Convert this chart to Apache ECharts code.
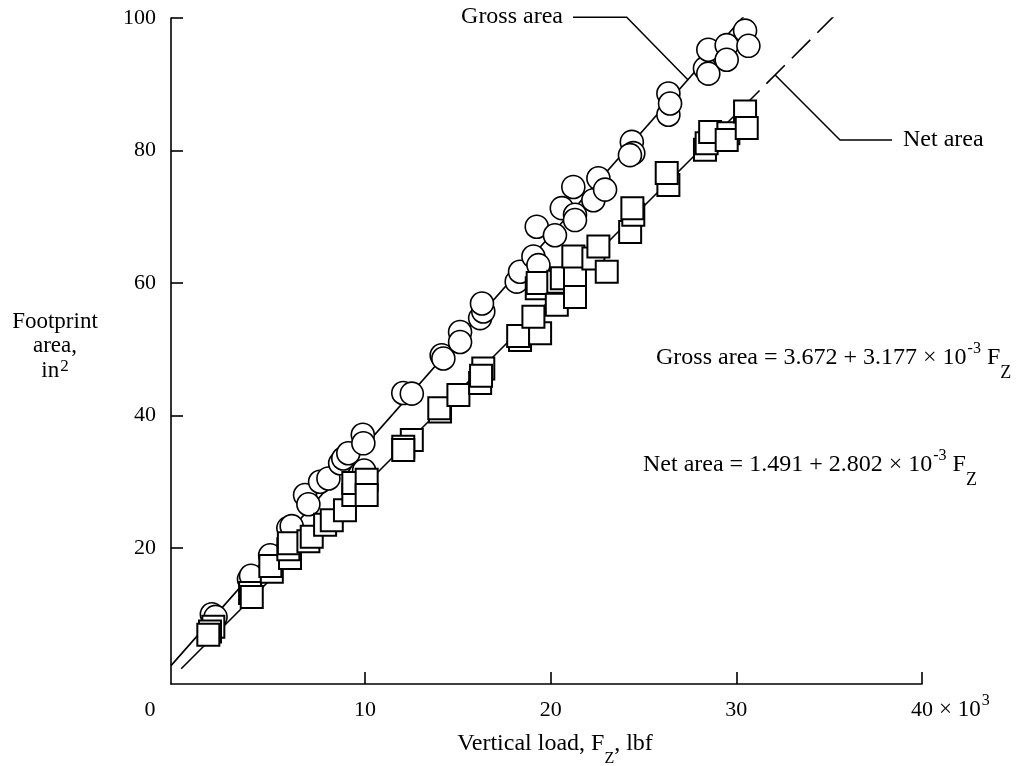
<!DOCTYPE html>
<html>
<head>
<meta charset="utf-8">
<script src="https://cdn.jsdelivr.net/npm/echarts@6/dist/echarts.min.js"></script>
<style>
  html, body { margin: 0; padding: 0; background: #fff; }
  #chart { width: 1018px; height: 766px; }
</style>
</head>
<body>
<div id="chart"></div>
<script>
// Tick positions (vertical load in thousands of lbf, footprint area in in^2)
const xTickValues = [10, 20, 30, 40];
const yTickValues = [20, 40, 60, 80, 100];

// Gross footprint area measurements (circles)
const grossLoad = [1.75, 1.95, 3.75, 3.86, 4.89, 5.87, 6.05, 6.77, 6.95, 7.58, 8.03, 8.66, 8.83, 9.10, 9.88, 9.91, 9.95,
  12.06, 12.52, 14.13, 14.22, 15.12, 15.12, 16.20, 16.37, 16.30, 18.17, 18.35, 19.07, 19.34, 19.25, 20.23, 20.60, 21.31,
  21.31, 21.22, 22.30, 22.57, 22.93, 24.37, 24.45, 24.27, 26.34, 26.34, 26.43, 28.31, 28.49, 28.49, 29.48, 29.48, 30.47, 30.65];
const grossArea = [10.0, 9.6, 15.3, 15.8, 18.9, 23.0, 23.3, 28.0, 26.6, 30.0, 30.5, 32.8, 33.5, 34.3, 37.1, 35.8, 31.7,
  43.4, 43.3, 49.1, 48.6, 52.6, 51.1, 54.7, 55.7, 56.9, 60.2, 61.7, 64.0, 62.7, 68.5, 67.2, 71.3, 70.3,
  69.5, 74.5, 72.5, 75.8, 74.1, 81.3, 79.6, 79.3, 88.6, 85.4, 87.1, 92.4, 91.6, 95.2, 95.9, 93.7, 98.1, 95.8];

// Net footprint area measurements (squares)
const netLoad = [1.83, 1.65, 1.56, 3.81, 3.90, 4.98, 4.90, 5.96, 5.87, 5.90, 6.95, 7.13, 7.85, 8.21, 8.92, 9.37, 9.37,
  10.09, 10.09, 12.52, 12.06, 12.06, 14.04, 14.00, 15.03, 16.37, 16.20, 16.25, 18.35, 18.25, 19.43, 19.07, 19.25, 19.30,
  20.33, 20.41, 20.60, 21.31, 21.31, 21.22, 22.30, 22.57, 23.02, 24.28, 24.45, 24.40, 26.34, 26.25, 28.31, 28.40, 28.59,
  29.57, 29.48, 30.47, 30.56];
const netArea = [8.1, 7.4, 6.9, 13.2, 12.6, 16.4, 17.3, 18.5, 19.8, 20.7, 21.0, 21.7, 23.5, 24.2, 25.7, 28.0, 29.8,
  30.3, 28.0, 36.3, 35.3, 34.8, 40.6, 41.1, 43.1, 47.1, 44.9, 46.0, 51.4, 52.0, 52.4, 54.9, 59.2, 60.0,
  56.7, 60.2, 60.7, 61.2, 57.9, 64.0, 63.7, 65.5, 61.7, 67.7, 70.3, 71.3, 74.8, 76.6, 80.1, 81.1, 82.8,
  82.6, 81.6, 85.9, 83.4];

// Least-squares fits: area = a + b * load (load in thousands of lbf)
const grossFit = { a: 3.672, b: 3.177 };
const netFit = { a: 1.491, b: 2.802 };
const grossLineSpan = [-0.45, 30.56];
const netSolidSpan = [0.1, 31.25];
const netDashSpan = [31.62, 35.3];

const FONT = "'Liberation Serif', 'Times New Roman', serif";
const fitAt = (fit, x) => fit.a + fit.b * x;
const zip = (xs, ys) => xs.map((x, i) => [x, ys[i]]);
const fitLine = (fit, span) => span.map(x => [x, fitAt(fit, x)]);

const chart = echarts.init(document.getElementById('chart'), null, { renderer: 'canvas' });

const axisCommon = {
  type: 'value',
  splitLine: { show: false },
  axisLine: { show: true, onZero: false, lineStyle: { color: '#000', width: 1.6 } },
  axisTick: { show: true, inside: true, length: 12, lineStyle: { color: '#000', width: 1.6 } },
  axisLabel: { color: '#000', fontFamily: FONT, fontSize: 22 }
};

const option = {
  animation: false,
  backgroundColor: '#fff',
  grid: { left: 171, right: 96, top: 18, bottom: 82, containLabel: false },
  xAxis: Object.assign({}, axisCommon, {
    min: -0.45, max: 40,
    axisTick: Object.assign({}, axisCommon.axisTick, { customValues: xTickValues }),
    axisLabel: Object.assign({}, axisCommon.axisLabel, { customValues: xTickValues, margin: 15 })
  }),
  yAxis: Object.assign({}, axisCommon, {
    min: -0.53, max: 100,
    axisTick: Object.assign({}, axisCommon.axisTick, { customValues: yTickValues }),
    axisLabel: Object.assign({}, axisCommon.axisLabel, { customValues: yTickValues, margin: 15 })
  }),
  series: [
    {
      name: 'Gross fit', type: 'line', data: fitLine(grossFit, grossLineSpan),
      showSymbol: false, symbol: 'none', z: 1, silent: true,
      lineStyle: { color: '#000', width: 1.6 }
    },
    {
      name: 'Net fit', type: 'line', data: fitLine(netFit, netSolidSpan),
      showSymbol: false, symbol: 'none', z: 1, silent: true,
      lineStyle: { color: '#000', width: 1.6 }
    },
    {
      name: 'Net fit extension', type: 'line', data: fitLine(netFit, netDashSpan),
      showSymbol: false, symbol: 'none', z: 1, silent: true,
      lineStyle: { color: '#000', width: 1.6, type: [26, 10] }
    },
    {
      name: 'Gross area', type: 'scatter', data: zip(grossLoad, grossArea),
      symbol: 'circle', symbolSize: 23, z: 3, silent: true,
      itemStyle: { color: '#fff', borderColor: '#000', borderWidth: 1.6, opacity: 1 }
    },
    {
      name: 'Net area', type: 'scatter', data: zip(netLoad, netArea),
      symbol: 'rect', symbolSize: 22, z: 4, silent: true,
      itemStyle: { color: '#fff', borderColor: '#000', borderWidth: 2, opacity: 1 }
    }
  ]
};
chart.setOption(option);

// Annotation text and leader lines
const t = (size) => ({ fontSize: size, fontFamily: FONT, fill: '#000' });
const eqRich = {
  t: Object.assign(t(24), { lineHeight: 48, verticalAlign: 'middle' }),
  sup: Object.assign(t(16), { lineHeight: 16, verticalAlign: 'top', padding: [7, 0, 0, 1] }),
  sub: Object.assign(t(18), { lineHeight: 18, verticalAlign: 'bottom', padding: [0, 0, 0, 0] })
};
const textEl = (x, y, text, align, rich, size) => ({
  type: 'text', x: x, y: y, silent: true,
  style: {
    text: text, rich: rich, fill: '#000',
    font: (size || 24) + 'px ' + FONT,
    align: align, textAlign: align,
    verticalAlign: 'middle', textVerticalAlign: 'middle'
  }
});

const pGross = chart.convertToPixel({ gridIndex: 0 }, [27.39, fitAt(grossFit, 27.39)]);
const pNet = chart.convertToPixel({ gridIndex: 0 }, [32.09, fitAt(netFit, 32.09)]);
const leader = (points) => ({
  type: 'polyline', silent: true,
  shape: { points: points },
  style: { stroke: '#000', lineWidth: 1.5, fill: null }
});

const subRich = {
  t: Object.assign(t(24), { lineHeight: 46, verticalAlign: 'middle' }),
  sub: Object.assign(t(16), { lineHeight: 16, verticalAlign: 'bottom', padding: [0, 0, 0, 0] })
};
const supRich = {
  t: Object.assign(t(23), { lineHeight: 40, verticalAlign: 'middle' }),
  sup: Object.assign(t(16), { lineHeight: 16, verticalAlign: 'top', padding: [3, 0, 0, 1] })
};
const inRich = {
  t: Object.assign(t(23), { lineHeight: 24.5, verticalAlign: 'bottom' }),
  sup: Object.assign(t(17), { lineHeight: 17, verticalAlign: 'top', padding: [0, 0, 0, 1] })
};

chart.setOption({
  graphic: [
    textEl(150, 710, '0', 'center', null, 22),
    textEl(939, 710, '{t|× 10}{sup|3}', 'left', supRich),
    textEl(555, 744, '{t|Vertical load, F}{sub|Z}{t|, lbf}', 'center', subRich),
    textEl(55, 345.5, '{t|Footprint}\n{t|area,}\n{t|in}{sup|2}', 'center', inRich),
    textEl(563, 17, 'Gross area', 'right'),
    textEl(903, 140, 'Net area', 'left'),
    textEl(656, 358, '{t|Gross area = 3.672 + 3.177 × 10}{sup|-3}{t| F}{sub|Z}', 'left', eqRich),
    textEl(643, 465, '{t|Net area = 1.491 + 2.802 × 10}{sup|-3}{t| F}{sub|Z}', 'left', eqRich),
    leader([[573, 17.3], [626.7, 17.3], pGross]),
    leader([pNet, [840, 140], [892, 140]])
  ]
});
</script>
</body>
</html>
